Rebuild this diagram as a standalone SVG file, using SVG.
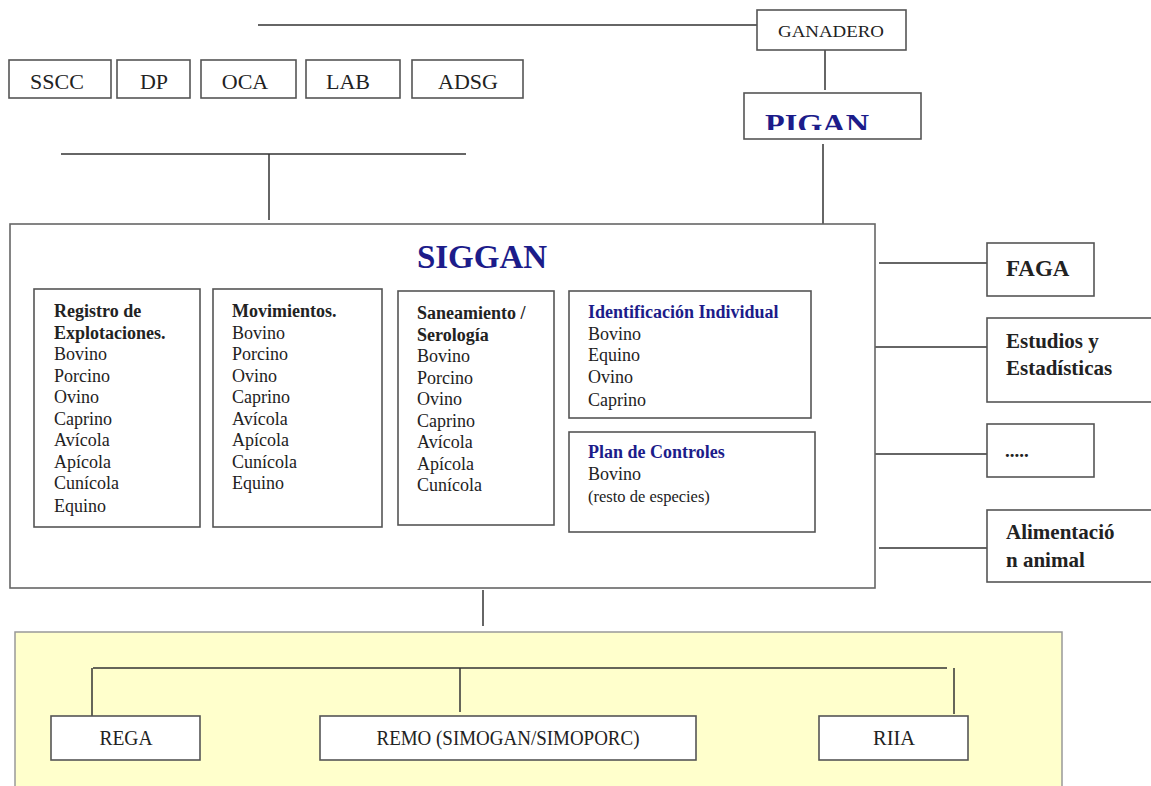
<svg xmlns="http://www.w3.org/2000/svg" width="1151" height="786" viewBox="0 0 1151 786">
<style>
.box{fill:#fff;stroke:#555;stroke-width:1.6}
.ln{stroke:#333;stroke-width:1.5;fill:none}
.t{font-family:"Liberation Serif","Times New Roman",serif;fill:#222}
.b{font-weight:bold}
.blue{fill:#1c1c8a}
.s18{font-size:18px}
.s22{font-size:22px}
.lb{font-size:21px;font-weight:bold}
</style>
<defs><clipPath id="pc"><rect x="744" y="93" width="178" height="37"/></clipPath></defs>
<rect width="1151" height="786" fill="#fff"/>
<g id="connectors">
<line class="ln" x1="258" y1="25" x2="757" y2="25"/>
<line class="ln" x1="825" y1="50" x2="825" y2="90" stroke="#777"/>
<line class="ln" x1="823" y1="144" x2="823" y2="224"/>
<line class="ln" x1="61" y1="154" x2="466" y2="154"/>
<line class="ln" x1="269" y1="154" x2="269" y2="220"/>
<line class="ln" x1="879" y1="263" x2="987" y2="263"/>
<line class="ln" x1="875" y1="347" x2="987" y2="347"/>
<line class="ln" x1="875" y1="454" x2="987" y2="454"/>
<line class="ln" x1="879" y1="548" x2="987" y2="548"/>
<line class="ln" x1="483" y1="590" x2="483" y2="626"/>
</g>
<g id="yellow">
<rect x="15" y="632" width="1047" height="160" fill="#ffffcc" stroke="#999" stroke-width="1.5"/>
<g class="connectors-inner">
<line class="ln" x1="93" y1="668" x2="947" y2="668"/>
<line class="ln" x1="92" y1="668" x2="92" y2="717"/>
<line class="ln" x1="460" y1="668" x2="460" y2="712"/>
<line class="ln" x1="954" y1="668" x2="954" y2="714"/>
</g>
</g>
<g id="ganadero"><rect class="box" x="757" y="10" width="149" height="40"/><text class="t" x="831" y="37" font-size="17" text-anchor="middle" textLength="106" lengthAdjust="spacingAndGlyphs">GANADERO</text></g>
<g id="pigan"><rect class="box" x="744" y="93" width="177" height="46"/><text class="t b blue" x="765" y="133" font-size="28" clip-path="url(#pc)" textLength="104" lengthAdjust="spacingAndGlyphs">PIGAN</text></g>
<g id="sscc"><rect class="box" x="9" y="60" width="102" height="38"/><text class="t s22" x="57" y="89" text-anchor="middle">SSCC</text></g>
<g id="dp"><rect class="box" x="117" y="60" width="73" height="38"/><text class="t s22" x="154" y="89" text-anchor="middle">DP</text></g>
<g id="oca"><rect class="box" x="201" y="60" width="95" height="38"/><text class="t s22" x="245" y="89" text-anchor="middle">OCA</text></g>
<g id="lab"><rect class="box" x="306" y="60" width="94" height="38"/><text class="t s22" x="348" y="89" text-anchor="middle">LAB</text></g>
<g id="adsg"><rect class="box" x="412" y="60" width="111" height="38"/><text class="t s22" x="468" y="89" text-anchor="middle">ADSG</text></g>
<g id="siggan">
<rect x="10" y="224" width="865" height="364" fill="#fff" stroke="#666" stroke-width="1.6"/>
<text class="t b blue" x="482" y="268" font-size="33" text-anchor="middle">SIGGAN</text>
</g>
<g id="registro">
<rect class="box" x="34" y="289" width="166" height="238"/>
<text class="t s18" x="54" y="317"><tspan class="b">Registro de</tspan><tspan class="b" x="54" dy="21.5">Explotaciones.</tspan><tspan x="54" dy="21.5">Bovino</tspan><tspan x="54" dy="21.5">Porcino</tspan><tspan x="54" dy="21.5">Ovino</tspan><tspan x="54" dy="21.5">Caprino</tspan><tspan x="54" dy="21.5">Avícola</tspan><tspan x="54" dy="21.5">Apícola</tspan><tspan x="54" dy="21.5">Cunícola</tspan><tspan x="54" dy="23">Equino</tspan></text>
</g>
<g id="movimientos">
<rect class="box" x="213" y="289" width="169" height="238"/>
<text class="t s18" x="232" y="317"><tspan class="b">Movimientos.</tspan><tspan x="232" dy="21.5">Bovino</tspan><tspan x="232" dy="21.5">Porcino</tspan><tspan x="232" dy="21.5">Ovino</tspan><tspan x="232" dy="21.5">Caprino</tspan><tspan x="232" dy="21.5">Avícola</tspan><tspan x="232" dy="21.5">Apícola</tspan><tspan x="232" dy="21.5">Cunícola</tspan><tspan x="232" dy="21.5">Equino</tspan></text>
</g>
<g id="saneamiento">
<rect class="box" x="398" y="291" width="156" height="234"/>
<text class="t s18" x="417" y="319"><tspan class="b">Saneamiento /</tspan><tspan class="b" x="417" dy="21.5">Serología</tspan><tspan x="417" dy="21.5">Bovino</tspan><tspan x="417" dy="21.5">Porcino</tspan><tspan x="417" dy="21.5">Ovino</tspan><tspan x="417" dy="21.5">Caprino</tspan><tspan x="417" dy="21.5">Avícola</tspan><tspan x="417" dy="21.5">Apícola</tspan><tspan x="417" dy="21.5">Cunícola</tspan></text>
</g>
<g id="identificacion">
<rect class="box" x="569" y="291" width="242" height="127"/>
<text class="t s18" x="588" y="318"><tspan class="b blue">Identificación Individual</tspan><tspan x="588" dy="21.5">Bovino</tspan><tspan x="588" dy="21.5">Equino</tspan><tspan x="588" dy="21.5">Ovino</tspan><tspan x="588" dy="23">Caprino</tspan></text>
</g>
<g id="plan">
<rect class="box" x="569" y="432" width="246" height="100"/>
<text class="t s18" x="588" y="458"><tspan class="b blue">Plan de Controles</tspan><tspan x="588" dy="22">Bovino</tspan><tspan x="588" dy="22" font-size="16.5">(resto de especies)</tspan></text>
</g>
<g id="faga"><rect class="box" x="987" y="243" width="107" height="53"/><text class="t b" font-size="23" x="1006" y="276">FAGA</text></g>
<g id="estudios"><rect class="box" x="987" y="318" width="170" height="84"/><text class="t lb" x="1006" y="348"><tspan>Estudios y</tspan><tspan x="1006" dy="27">Estadísticas</tspan></text></g>
<g id="dots"><rect class="box" x="987" y="424" width="107" height="53"/><text class="t b" font-size="19" x="1005" y="457">.....</text></g>
<g id="alimentacion"><rect class="box" x="987" y="510" width="170" height="72"/><text class="t lb" x="1006" y="539"><tspan>Alimentació</tspan><tspan x="1006" dy="28">n animal</tspan></text></g>
<g id="rega"><rect class="box" x="51" y="716" width="149" height="44"/><text class="t" font-size="20" x="126" y="745" text-anchor="middle" textLength="53" lengthAdjust="spacingAndGlyphs">REGA</text></g>
<g id="remo"><rect class="box" x="320" y="716" width="376" height="44"/><text class="t" font-size="20" x="508" y="745" text-anchor="middle" textLength="263" lengthAdjust="spacingAndGlyphs">REMO (SIMOGAN/SIMOPORC)</text></g>
<g id="riia"><rect class="box" x="819" y="716" width="149" height="44"/><text class="t" font-size="20" x="894" y="745" text-anchor="middle" textLength="42" lengthAdjust="spacingAndGlyphs">RIIA</text></g>
</svg>
